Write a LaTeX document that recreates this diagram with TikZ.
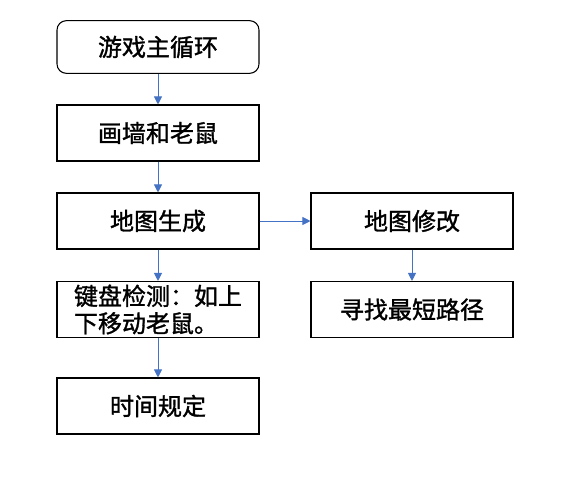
\documentclass[tikz,border=0pt]{standalone}
\usepackage{fontspec}
\setmainfont{Noto Sans CJK SC}
\newfontfamily\boxfont{Noto Sans CJK SC}[FakeBold=1.3]
\usetikzlibrary{arrows.meta,positioning}
\definecolor{arrowblue}{HTML}{4472C4}

\begin{document}
\begin{tikzpicture}[x=0.75pt,y=-0.75pt,
  box/.style={draw,line width=0.8pt,minimum width=151.5pt,minimum height=42pt,
    inner sep=0pt,font=\fontsize{18}{20.5}\selectfont\boxfont},
  startbox/.style={box,rounded corners=7pt,minimum height=39.5pt},
  flow/.style={draw=arrowblue,line width=0.7pt,-{Triangle[width=6pt,length=6pt]}}]
  \useasboundingbox (0,0) rectangle (569,487);
  % left column
  \node[startbox] (loop) at (158,47) {游戏主循环};
  \node[box] (draw) at (158,133) {画墙和老鼠};
  \node[box] (map) at (158,221) {地图生成};
  \node[box,align=left] (key) at (158,309.5) {键盘检测：如上\\下移动老鼠。};
  \node[box] (time) at (158,406) {时间规定};
  % right column
  \node[box] (edit) at (412,221) {地图修改};
  \node[box] (path) at (412,309.5) {寻找最短路径};
  % arrows
  \draw[flow] (loop) -- (draw);
  \draw[flow] (draw) -- (map);
  \draw[flow] (map) -- (key);
  \draw[flow] (key) -- (time);
  \draw[flow] (map) -- (edit);
  \draw[flow] (edit) -- (path);
\end{tikzpicture}
\end{document}
